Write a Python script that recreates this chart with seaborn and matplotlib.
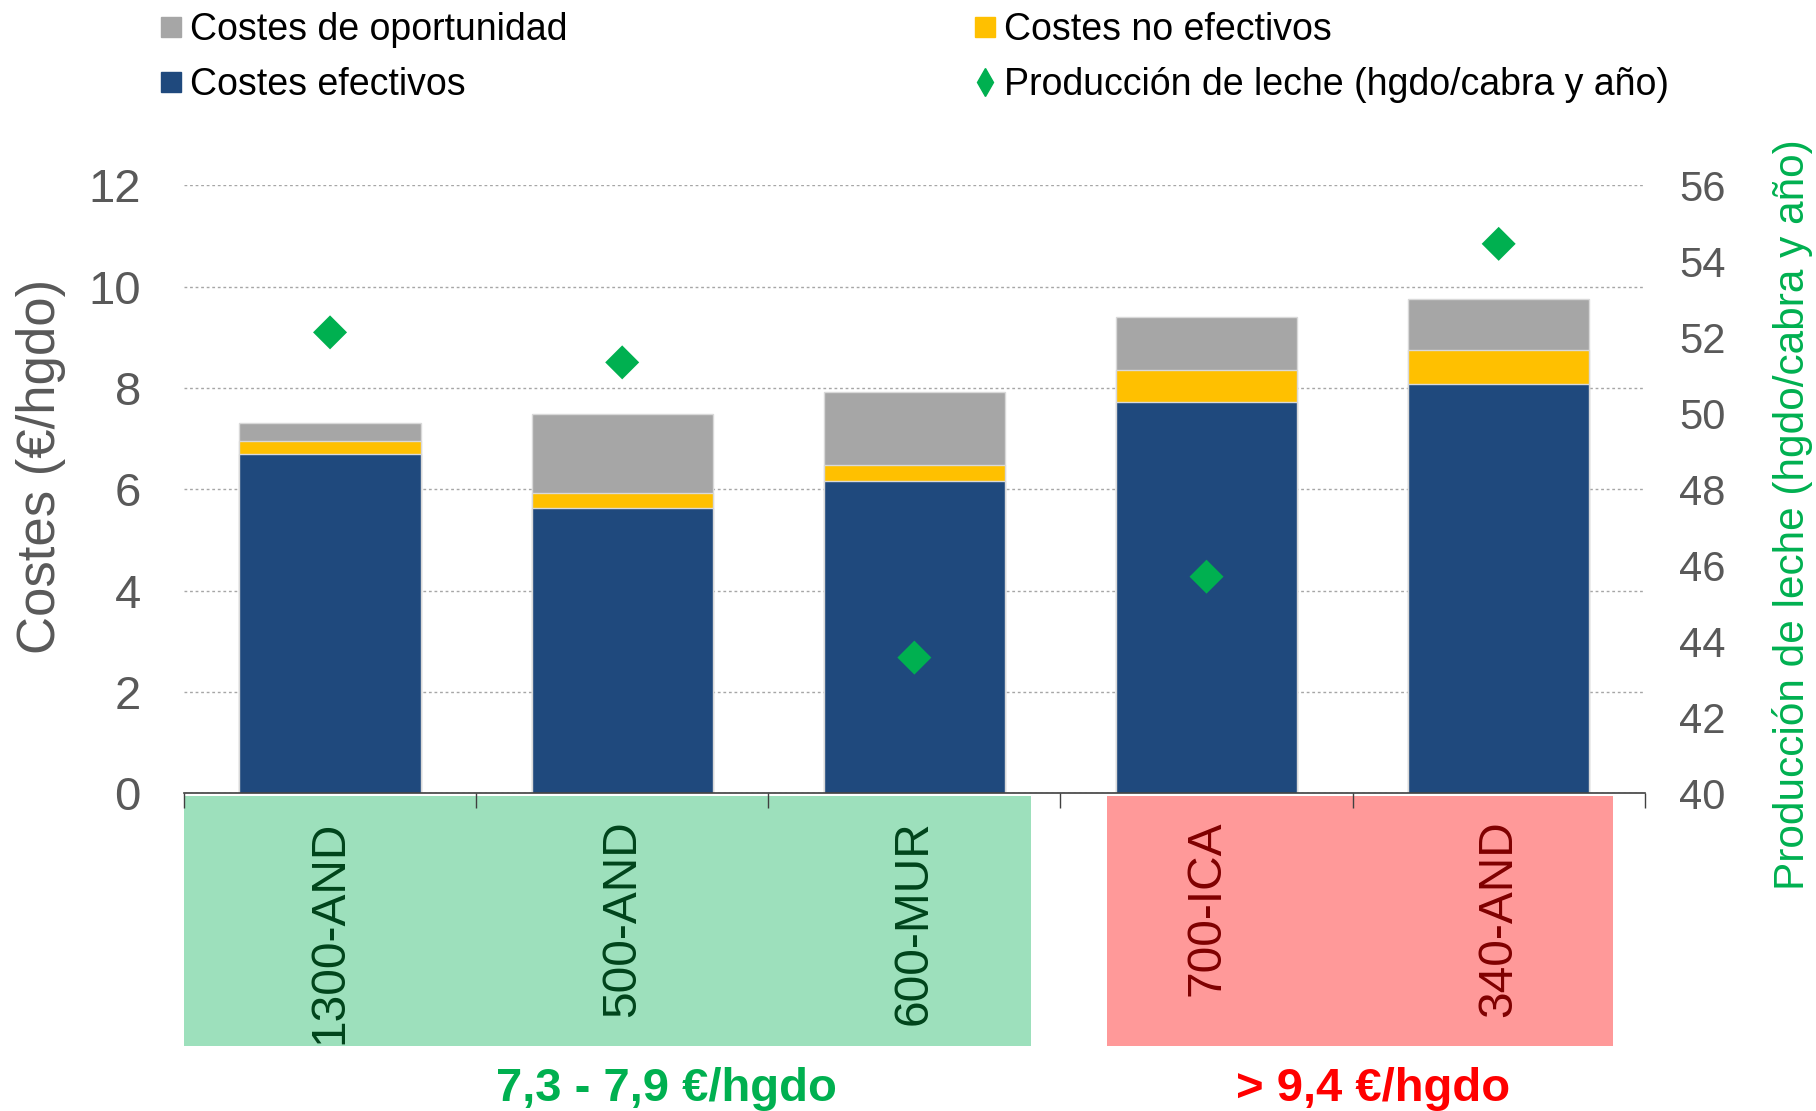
import numpy as np
import matplotlib
matplotlib.use("Agg")
import matplotlib.pyplot as plt
import seaborn as sns
from matplotlib.lines import Line2D
from matplotlib.patches import Rectangle

# ─────────────────────────────────────────────────────────────
# DONNÉES
# ─────────────────────────────────────────────────────────────
explotaciones = ["1300-AND", "500-AND", "600-MUR", "700-ICA", "340-AND"]
costes_efectivos = [6.69, 5.64, 6.16, 7.73, 8.07]
costes_no_efectivos = [0.27, 0.29, 0.32, 0.63, 0.68]
costes_oportunidad = [0.35, 1.55, 1.44, 1.05, 1.01]
produccion_leche = [52.13, 51.34, 43.57, 45.70, 54.46]

grupo_labels = ["7,3 - 7,9 €/hgdo", "> 9,4 €/hgdo"]

AZUL = "#1F497D"
AMARILLO = "#FFC000"
GRIS = "#A6A6A6"
VERDE = "#00B050"
TXT = "#595959"

sns.set_theme(style="white")
plt.rcParams["font.family"] = ["Liberation Sans", "DejaVu Sans"]
plt.rcParams["axes.axisbelow"] = True

ef = np.array(costes_efectivos)
ne = np.array(costes_no_efectivos)
op = np.array(costes_oportunidad)

fig = plt.figure(figsize=(18.16, 11.11), dpi=100)
ax = fig.add_axes([0.1013, 0.286, 0.8044, 0.5472])

# barras apiladas: total -> efectivos+no efectivos -> efectivos
kw = dict(width=0.62, ax=ax, edgecolor="#D9D9D9", linewidth=1, zorder=2, saturation=1)
sns.barplot(x=explotaciones, y=ef + ne + op, color=GRIS, **kw)
sns.barplot(x=explotaciones, y=ef + ne, color=AMARILLO, **kw)
sns.barplot(x=explotaciones, y=ef, color=AZUL, **kw)

ax.set_ylim(0, 12)
ax.set_xlim(-0.5, 4.5)
ax.set_yticks(range(0, 13, 2))
ax.tick_params(axis="y", labelsize=34, colors=TXT, pad=31, length=0)
ax.set_xticks(np.arange(-0.5, 5, 1))
ax.set_xticklabels([])
ax.tick_params(axis="x", direction="out", length=11, width=1, color="#404040", bottom=True)
ax.grid(axis="y", ls=(0, (2, 2)), color="#A6A6A6", lw=1)
for s in ["top", "left", "right"]:
    ax.spines[s].set_visible(False)
ax.spines["bottom"].set_color("#404040")
ax.spines["bottom"].set_linewidth(1.2)
ax.set_xlabel("")
ax.set_ylabel("Costes (€/hgdo)", fontsize=38, color=TXT)
ax.yaxis.set_label_coords(-0.081, 0.537)

# cajas de categorías
trans = ax.get_xaxis_transform()
ax.add_patch(Rectangle((-0.5, -0.415), 2.9, 0.411, transform=trans,
                       facecolor="#9DE0BC", edgecolor="none", clip_on=False, zorder=0.3))
ax.add_patch(Rectangle((2.66, -0.415), 1.73, 0.411, transform=trans,
                       facecolor="#FF9999", edgecolor="none", clip_on=False, zorder=0.3))
for i, lab in enumerate(explotaciones):
    col = "#00441B" if i < 3 else "#7F0000"
    ax.text(i, -0.045, lab, transform=trans, rotation=90, ha="center", va="top",
            fontsize=34.5, color=col)
ax.text(1.15, -0.486, grupo_labels[0], transform=trans, ha="center", va="center",
        fontsize=34, fontweight="bold", color=VERDE)
ax.text(3.57, -0.486, grupo_labels[1], transform=trans, ha="center", va="center",
        fontsize=34, fontweight="bold", color="#FF0000")

# eje secundario: producción de leche
ax2 = ax.twinx()
sns.scatterplot(x=np.arange(len(explotaciones)), y=produccion_leche, ax=ax2,
                marker="D", s=300, color=VERDE, edgecolor="none", zorder=5)
ax2.set_ylim(40, 56)
ax2.set_xlim(-0.5, 4.5)
ax2.set_yticks(range(40, 57, 2))
ax2.tick_params(axis="y", labelsize=30, colors=TXT, pad=25, length=0)
for s in ax2.spines.values():
    s.set_visible(False)
ax2.set_ylabel("Producción de leche (hgdo/cabra y año)", fontsize=30.5, color=VERDE)
ax2.yaxis.set_label_coords(1.087, 0.458)

# leyenda
handles = [
    Line2D([], [], marker="s", ls="", color=GRIS, markersize=14),
    Line2D([], [], marker="s", ls="", color=AZUL, markersize=14),
    Line2D([], [], marker="s", ls="", color=AMARILLO, markersize=14),
    Line2D([], [], marker="d", ls="", color=VERDE, markersize=14),
]
labels = ["Costes de oportunidad", "Costes efectivos",
          "Costes no efectivos", "Producción de leche (hgdo/cabra y año)"]
fig.legend(handles, labels, loc="upper left", bbox_to_anchor=(0.089, 0.989),
           ncol=2, frameon=False, fontsize=27, handlelength=0.5, handletextpad=0.25,
           columnspacing=10.9, labelspacing=0.5, borderpad=0, borderaxespad=0,
           labelcolor="black")

fig.savefig("out.png", dpi=100)
